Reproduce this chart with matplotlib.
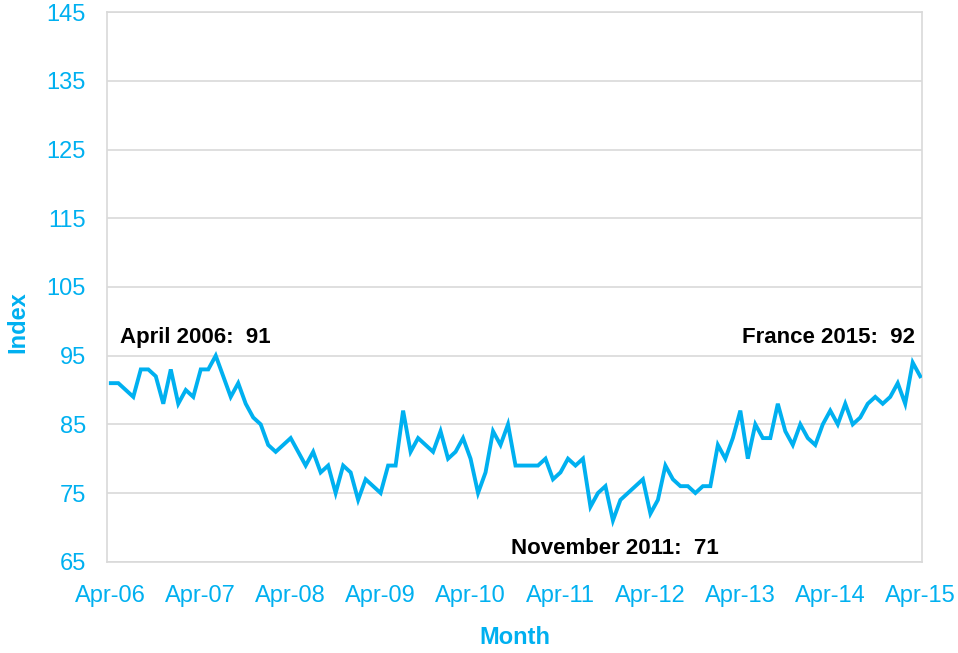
import matplotlib
matplotlib.use("Agg")
import matplotlib.pyplot as plt

plt.rcParams['font.family'] = ['Liberation Sans', 'DejaVu Sans']

# Monthly index, Apr-06 .. Apr-15
values = [
    91, 91, 90, 89, 93, 93, 92, 88, 93, 88, 90, 89,   # Apr-06 .. Mar-07
    93, 93, 95, 92, 89, 91, 88, 86, 85, 82, 81, 82,   # Apr-07 .. Mar-08
    83, 81, 79, 81, 78, 79, 75, 79, 78, 74, 77, 76,   # Apr-08 .. Mar-09
    75, 79, 79, 87, 81, 83, 82, 81, 84, 80, 81, 83,   # Apr-09 .. Mar-10
    80, 75, 78, 84, 82, 85, 79, 79, 79, 79, 80, 77,   # Apr-10 .. Mar-11
    78, 80, 79, 80, 73, 75, 76, 71, 74, 75, 76, 77,   # Apr-11 .. Mar-12
    72, 74, 79, 77, 76, 76, 75, 76, 76, 82, 80, 83,   # Apr-12 .. Mar-13
    87, 80, 85, 83, 83, 88, 84, 82, 85, 83, 82, 85,   # Apr-13 .. Mar-14
    87, 85, 88, 85, 86, 88, 89, 88, 89, 91, 88, 94,   # Apr-14 .. Mar-15
    92,                                               # Apr-15
]
tick_labels = ["Apr-06", "Apr-07", "Apr-08", "Apr-09", "Apr-10",
               "Apr-11", "Apr-12", "Apr-13", "Apr-14", "Apr-15"]
y_ticks = [65, 75, 85, 95, 105, 115, 125, 135, 145]
annotations = [("April 2006:  91", 0), ("November 2011:  71", 67), ("France 2015:  92", 108)]

blue = "#00B0F0"
grid = "#D9D9D9"

fig = plt.figure(figsize=(9.58, 6.53), dpi=100)
W, H = 958, 653
ax = fig.add_axes([106.7 / W, 1 - 561.7 / H, (921.7 - 106.7) / W, (561.7 - 12.3) / H])

x = list(range(len(values)))
ax.plot(x, values, color=blue, linewidth=2.8, solid_joinstyle='miter', zorder=3)

ax.set_xlim(-0.55, 108.2)
ax.set_ylim(65, 145)
ax.set_yticks(y_ticks)
ax.set_xticks([i * 12 for i in range(len(tick_labels))])
ax.set_xticklabels(tick_labels)
ax.yaxis.grid(True, color=grid, linewidth=1.2)
ax.set_axisbelow(True)
for s in ax.spines.values():
    s.set_color(grid)
    s.set_linewidth(1.2)
ax.tick_params(axis='both', length=0, labelcolor=blue, labelsize=17)
ax.tick_params(axis='y', pad=15)
ax.tick_params(axis='x', pad=17)

fig.text(18 / W, 1 - 322 / H, "Index", rotation=90, color=blue, fontsize=17,
         fontweight='bold', ha='center', va='center')
fig.text(515 / W, 1 - 638 / H, "Month", color=blue, fontsize=17,
         fontweight='bold', ha='center', va='center')

(t0, i0), (t1, i1), (t2, i2) = annotations
ax.text(i0 + 1.2, 97.7, t0, fontsize=16, fontweight='bold', ha='left', va='center', color='black')
ax.text(i1 + 0.2, 66.9, t1, fontsize=16, fontweight='bold', ha='center', va='center', color='black')
ax.text(i2 - 0.7, 97.7, t2, fontsize=16, fontweight='bold', ha='right', va='center', color='black')

fig.savefig("out.png", dpi=100)
